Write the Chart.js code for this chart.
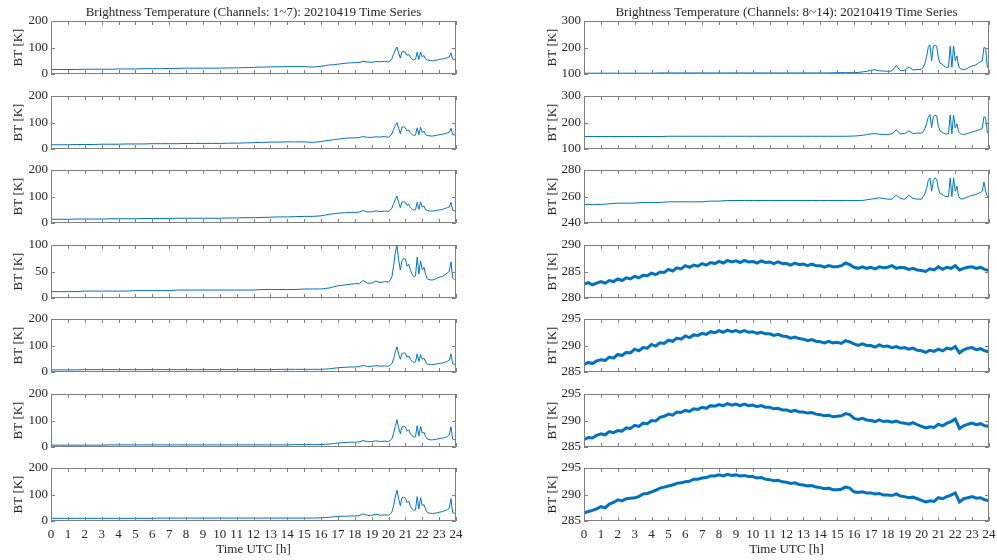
<!DOCTYPE html>
<html>
<head>
<meta charset="utf-8">
<script src="https://cdn.jsdelivr.net/npm/chart.js@4.4.0/dist/chart.umd.min.js"></script>
<style>
  html, body { margin: 0; padding: 0; background: #fff; }
  body { width: 997px; height: 560px; position: relative; overflow: hidden; }
  canvas { position: absolute; }
</style>
</head>
<body>
<script>
// time axis for the spiky channels (coarse in the quiet part, fine after 20 h)
const HOURS = [0,0.5,1,1.5,2,2.5,3,3.5,4,4.5,5,5.5,6,6.5,7,7.5,8,8.5,9,9.5,10,10.5,11,11.5,12,12.5,13,13.5,14,14.5,15,15.5,16,
  16.25,16.5,16.75,17,17.25,17.5,17.75,18,18.25,18.5,18.75,19,19.25,19.5,19.75,20,
  20.1,20.2,20.3,20.4,20.5,20.6,20.7,20.8,20.9,21,21.1,21.2,21.3,21.4,21.5,21.6,21.7,21.8,21.9,22,
  22.1,22.2,22.3,22.4,22.5,22.6,22.7,22.8,22.9,23,23.1,23.2,23.3,23.4,23.5,23.6,23.7,23.8,23.9,24];

// time axis for the noisy window channels
const HOURS_FINE = [0,0.25,0.5,0.75,1,1.25,1.5,1.75,2,2.25,2.5,2.75,3,3.25,3.5,3.75,4,4.25,4.5,4.75,
  5,5.25,5.5,5.75,6,6.25,6.5,6.75,7,7.25,7.5,7.75,8,8.25,8.5,8.75,9,9.25,9.5,9.75,
  10,10.25,10.5,10.75,11,11.25,11.5,11.75,12,12.25,12.5,12.75,13,13.25,13.5,13.75,14,14.25,14.5,14.75,
  15,15.25,15.5,15.75,16,16.25,16.5,16.75,17,17.25,17.5,17.75,18,18.25,18.5,18.75,19,19.25,19.5,19.75,
  20,20.25,20.5,20.75,21,21.25,21.5,21.75,22,22.25,22.5,22.75,23,23.25,23.5,23.75,24];

const CH1 = [17,17,17,17,18,18,18,18,19,19,19,20,20,20,21,21,22,22,22,22,22,23,23,24,25,26,27,27,28,28,28,26,29,
  32,34,35,37,39,41,42,43,43,48,45,44,47,46,48,45,
  50,58,75,90,102,80,60,84,85,82,70,74,62,56,53,55,82,55,83,64,70,56,53,52,51,50,51,52,53,55,56,57,58,60,62,64,80,56,55,54];
const CH2 = [16,16,16,17,17,17,18,18,18,19,19,19,20,20,20,20,21,21,21,21,21,22,22,23,24,25,26,26,27,27,27,25,28,
  31,33,35,37,39,41,42,42,43,47,44,44,46,45,47,44,
  49,57,74,88,100,78,58,83,84,80,68,72,60,54,51,53,80,54,82,62,68,54,51,50,49,49,50,51,52,54,55,56,57,59,61,63,78,55,53,53];
const CH3 = [14,14,14,15,15,15,15,16,16,16,16,17,17,17,17,18,18,18,18,18,18,19,19,20,20,21,22,23,23,24,25,25,27,
  30,33,35,37,38,39,40,40,41,47,42,42,46,43,45,44,
  48,56,72,88,102,78,58,80,80,78,66,70,58,52,49,50,78,52,80,60,64,50,47,46,45,45,46,47,48,49,50,52,54,56,58,60,78,48,46,46];
const CH4 = [12,12,12,12,13,13,13,13,13,13,14,14,14,14,14,15,15,15,15,15,15,15,15,15,15,16,16,16,16,16,17,17,17,
  18,19,21,23,24,25,26,27,27,33,28,28,32,29,31,30,
  34,40,60,85,100,72,53,70,75,73,60,64,52,45,40,42,77,45,70,53,58,44,36,35,34,34,35,36,38,39,40,41,43,45,48,50,68,38,35,35];
const CH5 = [8,8,8,8,9,9,9,9,9,9,9,9,9,9,9,9,9,9,9,9,9,9,9,9,9,9,9,10,10,10,10,10,10,
  11,12,14,16,17,18,19,19,20,25,21,21,24,22,23,22,
  26,32,50,75,95,68,48,70,72,70,56,60,48,40,36,38,68,40,66,48,52,38,30,29,28,28,29,30,31,32,33,34,36,38,41,44,68,32,29,29];
const CH6 = [7,7,7,7,7,7,7,8,8,8,8,8,8,8,8,8,8,8,8,8,8,8,8,8,8,8,8,8,8,9,9,9,9,
  10,11,13,15,16,17,18,18,19,24,20,20,23,21,22,21,
  25,31,52,78,103,72,50,76,78,75,60,64,50,42,37,39,80,42,78,52,56,40,30,28,27,27,28,29,30,32,33,34,35,37,40,45,76,30,28,28];
const CH7 = [10,10,10,10,10,10,10,10,10,10,10,10,10,11,11,11,11,11,11,11,11,11,11,11,11,11,11,11,11,11,11,11,12,
  13,14,16,17,18,18,19,19,20,27,21,21,26,22,23,22,
  27,34,58,90,116,84,58,88,90,86,70,74,56,46,40,42,92,46,88,58,62,44,32,30,29,28,29,30,31,33,34,36,38,40,44,48,84,32,29,29];
const CH8 = [103,103,103,103,103,103,103,103,103,104,104,104,104,104,104,104,104,104,104,104,104,104,104,104,104,104,104,104,104,104,105,105,105,
  106,108,110,114,116,112,111,110,112,132,113,114,126,115,117,118,
  125,140,165,200,210,150,205,208,205,160,140,138,132,128,124,126,205,125,206,150,168,130,120,118,116,118,120,125,128,130,132,134,138,142,146,150,200,198,124,128];
const CH9 = [147,147,147,147,147,147,147,147,147,147,148,148,148,148,148,148,148,148,148,148,148,148,148,148,148,148,148,148,148,148,148,148,149,
  150,152,154,157,158,156,155,155,157,172,157,158,168,158,160,160,
  165,178,195,220,230,180,222,228,225,185,168,165,160,158,156,158,228,158,228,180,195,165,158,156,155,156,158,160,162,164,166,168,170,172,175,178,222,218,162,166];
const CH10 = [254,254,254,254.5,255,255,255,255.5,255.5,255.5,256,256,256,256,256,256.5,256.5,257,257,257,257,257,257,257,257,257,257,257,257,257,257,257,257,
  257,257,257.5,258,258.5,259,258.5,258,258,261,258.5,258,261,258.5,258,258,
  260,262,266,272,274,264,272,274,273,266,262,262,261,260,260,260,274,260,274,264,268,260,258.5,258,258.5,259,259.5,260,260.5,261,261,261.5,262,262.5,263,264,271,264,260,260];
const CH11 = [282.6,282.9,282.5,282.8,283.1,282.8,283.3,283.1,283.6,283.3,283.8,283.6,284.1,283.8,284.3,284.2,
  284.7,284.4,284.9,284.8,285.4,285.1,285.7,285.5,286.1,285.8,286.2,286.0,286.5,286.2,286.7,286.5,
  286.9,286.6,287.1,286.8,287.0,286.7,287.1,286.8,286.9,286.6,287.0,286.7,286.8,286.5,286.8,286.5,
  286.5,286.2,286.6,286.3,286.4,286.1,286.4,286.1,286.1,285.8,286.1,285.9,285.9,286.1,286.6,286.3,
  285.8,285.6,285.9,285.6,285.8,285.5,285.9,285.7,285.8,286.1,285.6,285.8,285.7,285.4,285.6,285.3,
  285.2,285.0,285.5,285.3,285.9,285.4,285.8,285.6,286.1,285.3,285.6,285.8,285.9,285.6,285.8,285.4,285.2];
const CH12 = [286.4,286.8,286.6,287.1,287.3,287.2,287.8,287.6,288.3,288.1,288.7,288.6,289.3,289.0,289.6,289.5,
  290.2,289.9,290.5,290.4,291.0,290.8,291.4,291.2,291.8,291.5,292.0,291.9,292.3,292.1,292.6,292.4,
  292.8,292.5,292.9,292.6,292.8,292.5,292.8,292.5,292.6,292.3,292.5,292.2,292.2,291.9,292.1,291.8,
  291.7,291.4,291.6,291.3,291.2,290.9,291.1,290.8,290.7,290.5,290.8,290.5,290.6,290.4,290.9,290.7,
  290.3,290.0,290.3,290.0,290.0,289.7,290.1,289.8,289.9,289.6,289.8,289.5,289.6,289.3,289.5,289.1,
  289.0,288.7,289.1,288.9,289.3,289.0,289.5,289.3,289.8,288.6,289.2,289.5,289.6,289.2,289.4,289.0,288.8];
const CH13 = [286.4,286.8,286.7,287.2,287.5,287.3,287.9,287.7,288.1,288.0,288.6,288.5,289.1,288.9,289.5,289.4,
  290.0,289.9,290.6,290.8,291.2,291.0,291.6,291.5,291.9,291.7,292.2,292.1,292.5,292.3,292.8,292.7,
  293.0,292.8,293.2,292.9,293.1,292.8,293.1,292.8,292.9,292.6,292.8,292.5,292.5,292.2,292.3,292.0,
  292.0,291.7,291.9,291.6,291.6,291.4,291.5,291.2,291.1,290.9,291.0,290.7,290.8,290.9,291.3,291.1,
  290.4,290.2,290.4,290.1,290.0,289.8,290.1,289.8,289.9,289.7,289.9,289.6,289.5,289.3,289.6,289.2,
  288.9,288.6,288.8,288.7,289.3,289.0,289.5,289.8,290.3,288.5,289.0,289.3,289.5,289.2,289.4,289.0,288.9];
const CH14 = [286.5,286.8,287.0,287.3,287.7,287.5,288.2,288.5,289.0,288.8,289.2,289.3,289.4,289.6,290.1,290.2,
  290.5,290.8,291.2,291.4,291.6,291.8,292.1,292.2,292.4,292.5,292.9,292.9,293.1,293.2,293.5,293.5,
  293.7,293.5,293.8,293.6,293.7,293.5,293.6,293.4,293.4,293.1,293.2,292.9,292.8,292.6,292.7,292.4,
  292.3,292.1,292.2,291.9,291.8,291.6,291.7,291.4,291.3,291.1,291.2,290.9,290.9,291.0,291.4,291.2,
  290.5,290.4,290.5,290.3,290.3,290.1,290.2,289.9,289.9,289.8,290.1,289.7,289.6,289.4,289.5,289.2,
  288.9,288.6,288.8,288.7,289.4,289.2,289.6,289.9,290.3,288.6,289.2,289.4,289.6,289.3,289.4,289.0,288.8];

const LEFT_SERIES = [CH1, CH2, CH3, CH4, CH5, CH6, CH7];
const RIGHT_SERIES = [CH8, CH9, CH10, CH11, CH12, CH13, CH14];
const RIGHT_TIMES = [HOURS, HOURS, HOURS, HOURS_FINE, HOURS_FINE, HOURS_FINE, HOURS_FINE];

const LEFT_Y_MIN = [0, 0, 0, 0, 0, 0, 0];
const LEFT_Y_MAX = [200, 200, 200, 100, 200, 200, 200];
const LEFT_Y_STEP = [100, 100, 100, 50, 100, 100, 100];
const RIGHT_Y_MIN = [100, 100, 240, 280, 285, 285, 285];
const RIGHT_Y_MAX = [300, 300, 280, 290, 295, 295, 295];
const RIGHT_Y_STEP = [100, 100, 20, 5, 5, 5, 5];

const TITLES = [
  `Brightness Temperature (Channels: 1~7): 20210419 Time Series`,
  `Brightness Temperature (Channels: 8~14): 20210419 Time Series`,
];
const Y_LABEL = `BT [K]`;
const X_LABEL = `Time UTC [h]`;

const FONT = `'Liberation Serif', 'Times New Roman', serif`;
const TEXT_COLOR = `#262626`;
const AXIS_COLOR = `#7f7f7f`;
const LINE_COLOR = `#0072bd`;
const TICK_LEN = 4;

const boxPlugin = {
  id: `matlabBox`,
  afterDraw(chart) {
    const {ctx, chartArea: a, scales: {x, y}} = chart;
    ctx.save();
    ctx.strokeStyle = AXIS_COLOR;
    ctx.lineWidth = 1;
    ctx.beginPath();
    ctx.rect(a.left + 0.5, a.top + 0.5, a.right - a.left - 1, a.bottom - a.top - 1);
    x.ticks.forEach((t) => {
      const px = Math.round(x.getPixelForValue(t.value)) + 0.5;
      ctx.moveTo(px, a.bottom);
      ctx.lineTo(px, a.bottom - TICK_LEN);
      ctx.moveTo(px, a.top);
      ctx.lineTo(px, a.top + TICK_LEN);
    });
    y.ticks.forEach((t) => {
      const py = Math.round(y.getPixelForValue(t.value)) + 0.5;
      ctx.moveTo(a.left, py);
      ctx.lineTo(a.left + TICK_LEN, py);
      ctx.moveTo(a.right, py);
      ctx.lineTo(a.right - TICK_LEN, py);
    });
    ctx.stroke();
    ctx.restore();
  }
};

const makePanel = (col, row, times, values, yMin, yMax, yStep, lineWidth) => {
  const isTop = row === 0;
  const isBottom = row === 6;
  const plotTop = Math.round(21 + row * 74.5);
  const topSpace = isTop ? 21 : 10;
  const bottomSpace = isBottom ? 39 : 10;
  const yWidth = col === 0 ? 51 : 84;
  const canvasLeft = col === 0 ? 0 : 500;
  const canvasWidth = col === 0 ? 466 : 497;
  const plotRight = col === 0 ? 456 : 489;
  const padRight = canvasWidth - plotRight;

  const canvas = document.createElement(`canvas`);
  canvas.width = canvasWidth;
  canvas.height = topSpace + 53 + bottomSpace;
  canvas.style.left = `${canvasLeft}px`;
  canvas.style.top = `${plotTop - topSpace}px`;
  document.body.appendChild(canvas);

  const font = {family: FONT, size: 13, weight: `normal`};

  return new Chart(canvas, {
    type: `line`,
    data: {
      datasets: [{
        data: times.map((t, k) => ({x: t, y: values[k]})),
        borderColor: LINE_COLOR,
        borderWidth: lineWidth,
        pointRadius: 0,
        fill: false,
        tension: 0,
      }],
    },
    options: {
      responsive: false,
      animation: false,
      devicePixelRatio: 1,
      layout: {
        autoPadding: false,
        padding: {top: isTop ? 0 : 10, right: padRight, left: 0, bottom: 0},
      },
      plugins: {
        legend: {display: false},
        tooltip: {enabled: false},
        title: {
          display: isTop,
          text: TITLES[col],
          fullSize: false,
          color: TEXT_COLOR,
          font: {family: FONT, size: 13, weight: `normal`, lineHeight: `15px`},
          padding: {top: 5, bottom: 1},
        },
      },
      scales: {
        x: {
          type: `linear`,
          min: 0,
          max: 24,
          grid: {display: false, drawTicks: false},
          border: {display: false},
          ticks: {
            display: isBottom,
            stepSize: 1,
            autoSkip: false,
            maxRotation: 0,
            color: TEXT_COLOR,
            font,
            padding: 6,
          },
          title: {
            display: isBottom,
            text: X_LABEL,
            color: TEXT_COLOR,
            font,
            padding: {top: 0, bottom: 3},
          },
          afterFit: (scale) => {
            scale.height = bottomSpace;
            scale.paddingLeft = 0;
            scale.paddingRight = 0;
          },
        },
        y: {
          min: yMin,
          max: yMax,
          grid: {display: false, drawTicks: false},
          border: {display: false},
          ticks: {
            stepSize: yStep,
            color: TEXT_COLOR,
            font,
            padding: 3,
          },
          title: {
            display: true,
            text: Y_LABEL,
            color: TEXT_COLOR,
            font,
            padding: {top: col === 0 ? 11 : 45, bottom: 0},
          },
          afterFit: (scale) => {
            scale.width = yWidth;
            scale.paddingTop = 0;
            scale.paddingBottom = 0;
          },
        },
      },
    },
    plugins: [boxPlugin],
  });
};

for (let i = 0; i < 7; i++) {
  makePanel(0, i, HOURS, LEFT_SERIES[i], LEFT_Y_MIN[i], LEFT_Y_MAX[i], LEFT_Y_STEP[i], 1);
  makePanel(1, i, RIGHT_TIMES[i], RIGHT_SERIES[i], RIGHT_Y_MIN[i], RIGHT_Y_MAX[i], RIGHT_Y_STEP[i], i < 3 ? 1 : 3);
}
</script>
</body>
</html>
